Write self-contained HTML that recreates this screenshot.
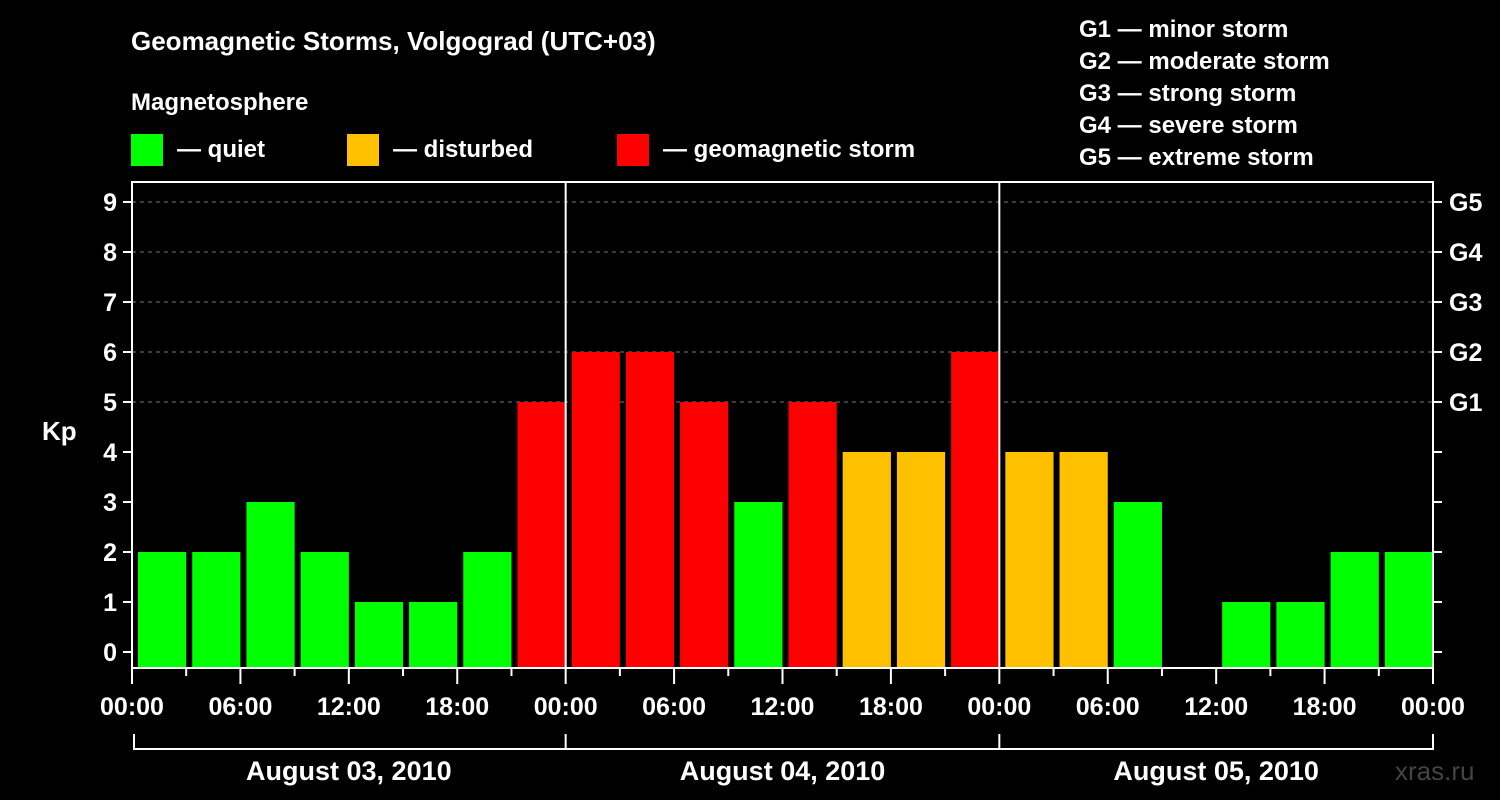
<!DOCTYPE html>
<html><head><meta charset="utf-8"><style>
html,body{margin:0;padding:0;background:#000;}
svg{display:block;font-family:"Liberation Sans",Arial,sans-serif;font-weight:bold;}
</style></head><body>
<svg id="chart" width="1500" height="800" viewBox="0 0 1500 800">
<rect x="0" y="0" width="1500" height="800" fill="#000"/>
<text x="131" y="50" fill="#fff" font-size="26">Geomagnetic Storms, Volgograd (UTC+03)</text>
<text x="131" y="110" fill="#fff" font-size="24">Magnetosphere</text>
<g><rect x="131" y="134" width="32" height="32" fill="#00ff00"/><text x="177" y="157" fill="#fff" font-size="24">— quiet</text></g>
<g><rect x="347" y="134" width="32" height="32" fill="#ffc000"/><text x="393" y="157" fill="#fff" font-size="24">— disturbed</text></g>
<g><rect x="617" y="134" width="32" height="32" fill="#ff0000"/><text x="663" y="157" fill="#fff" font-size="24">— geomagnetic storm</text></g>
<g fill="#fff" font-size="24">
<text x="1079" y="37">G1 — minor storm</text>
<text x="1079" y="69">G2 — moderate storm</text>
<text x="1079" y="101">G3 — strong storm</text>
<text x="1079" y="133">G4 — severe storm</text>
<text x="1079" y="165">G5 — extreme storm</text>
</g>
<g id="grid"></g>
<g id="bars"></g>
<g id="axes"></g>
<text x="42" y="440" fill="#fff" font-size="26">Kp</text>
<text x="1395" y="780" fill="#444" font-size="26" font-weight="normal">xras.ru</text>
</svg>
<script>
const kpValues = [2,2,3,2,1,1,2,5, 6,6,5,3,5,4,4,6, 4,4,3,null,1,1,2,2];
const yTicks = [0,1,2,3,4,5,6,7,8,9];
const gLabels = [[5,"G1"],[6,"G2"],[7,"G3"],[8,"G4"],[9,"G5"]];
const hourLabels = ["00:00","06:00","12:00","18:00"];
const dayLabels = ["August 03, 2010","August 04, 2010","August 05, 2010"];

const NS="http://www.w3.org/2000/svg";
const L=132,R=1433,T=182,B=668;
const barW=(R-L)/24;
const y=v=>652-50*v;
const x=i=>L+barW*i;
function mk(tag,attrs,parent,text){const e=document.createElementNS(NS,tag);for(const k in attrs)e.setAttribute(k,attrs[k]);if(text!=null)e.textContent=text;parent.appendChild(e);return e;}
const grid=document.getElementById('grid'),bars=document.getElementById('bars'),axes=document.getElementById('axes');
yTicks.forEach(v=>{
  if(v>=5){const g=mk('line',{x1:L,x2:R,y1:y(v),y2:y(v),stroke:'#777','stroke-dasharray':'4,4','stroke-width':1},grid);
  
  }
  const t=mk('line',{x1:L-9,x2:L,y1:y(v),y2:y(v),stroke:'#fff','stroke-width':2},axes);
  
  
  const tr=mk('line',{x1:R,x2:R+9,y1:y(v),y2:y(v),stroke:'#fff','stroke-width':2},axes);
  
  
  const lb=mk('text',{x:L-15,y:y(v)+9,fill:'#fff','font-size':25,'text-anchor':'end'},axes,String(v));
  
  
});
gLabels.forEach(([v,s])=>{
  const lb=mk('text',{x:R+16,y:y(v)+9,fill:'#fff','font-size':25},axes,s);
  
  
});
kpValues.forEach((v,i)=>{
  if(v==null)return;
  const c=v>=5?'#ff0000':(v>=4?'#ffc000':'#00ff00');
  const r=mk('rect',{x:x(i)+6,y:y(v),width:barW-6,height:B-y(v),fill:c},bars);
  
  
});
const frame=mk('rect',{x:L,y:T,width:R-L,height:B-T,fill:'none',stroke:'#fff','stroke-width':2},axes);


[1,2].forEach(d=>{const l=mk('line',{x1:x(d*8),x2:x(d*8),y1:T,y2:B,stroke:'#fff','stroke-width':2},axes);

});
for(let i=0;i<=24;i++){
  const major=i%2===0;
  const t=mk('line',{x1:x(i),x2:x(i),y1:B,y2:B+(major?16:8),stroke:'#fff','stroke-width':2},axes);
  
  
  if(major){const lb=mk('text',{x:x(i),y:715,fill:'#fff','font-size':25,'text-anchor':'middle'},axes,hourLabels[(i/2)%4]);
  
  }
}
const br=mk('line',{x1:L+2,x2:R,y1:749,y2:749,stroke:'#fff','stroke-width':2},axes);


for(let d=0;d<=3;d++){const l=mk('line',{x1:x(d*8)+(d==0?2:0),x2:x(d*8)+(d==0?2:0),y1:734,y2:750,stroke:'#fff','stroke-width':2},axes);

}
dayLabels.forEach((s,d)=>{const lb=mk('text',{x:x(d*8+4),y:780,fill:'#fff','font-size':27,'text-anchor':'middle'},axes,s);

});
</script>
</body></html>
